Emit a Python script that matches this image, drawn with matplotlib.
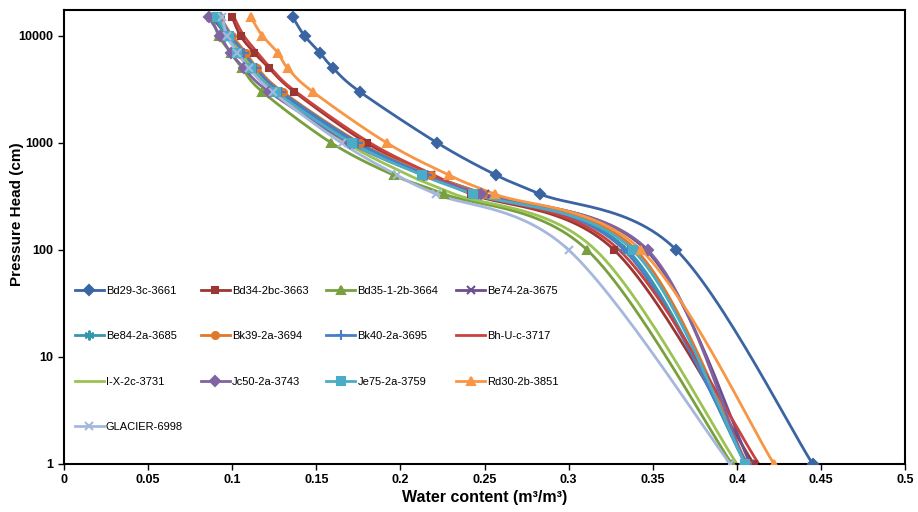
import numpy as np
import matplotlib
matplotlib.use('Agg')
import matplotlib.pyplot as plt
from matplotlib.ticker import FixedLocator, FixedFormatter, NullLocator

plt.rcParams['font.family'] = ['Liberation Sans Narrow', 'Liberation Sans', 'DejaVu Sans']

# pressure heads (cm) where water content was measured
heads = [1, 100, 333, 500, 1000, 3000, 5000, 7000, 10000, 15000]

names = ['Bd29-3c-3661', 'Bd34-2bc-3663', 'Bd35-1-2b-3664', 'Be74-2a-3675',
         'Be84-2a-3685', 'Bk39-2a-3694', 'Bk40-2a-3695', 'Bh-U-c-3717',
         'I-X-2c-3731', 'Jc50-2a-3743', 'Je75-2a-3759', 'Rd30-2b-3851',
         'GLACIER-6998']

bd29 = [0.445, 0.364, 0.283, 0.257, 0.222, 0.176, 0.160, 0.152, 0.143, 0.136]
bd34 = [0.410, 0.327, 0.242, 0.218, 0.180, 0.137, 0.122, 0.113, 0.105, 0.100]
bd35 = [0.397, 0.311, 0.226, 0.196, 0.159, 0.118, 0.106, 0.099, 0.092, 0.088]
be74 = [0.408, 0.346, 0.250, 0.218, 0.175, 0.128, 0.113, 0.105, 0.097, 0.088]
be84 = [0.405, 0.335, 0.246, 0.215, 0.172, 0.126, 0.111, 0.104, 0.096, 0.090]
bk39 = [0.406, 0.340, 0.249, 0.218, 0.176, 0.130, 0.115, 0.108, 0.100, 0.093]
bk40 = [0.406, 0.333, 0.246, 0.216, 0.175, 0.129, 0.114, 0.107, 0.099, 0.093]
bhu = [0.413, 0.330, 0.245, 0.220, 0.182, 0.138, 0.123, 0.115, 0.107, 0.101]
ix = [0.400, 0.316, 0.232, 0.205, 0.168, 0.126, 0.112, 0.105, 0.097, 0.093]
jc50 = [0.405, 0.347, 0.248, 0.214, 0.170, 0.122, 0.107, 0.099, 0.093, 0.086]
je75 = [0.405, 0.338, 0.243, 0.213, 0.171, 0.126, 0.111, 0.103, 0.098, 0.091]
rd30 = [0.422, 0.343, 0.256, 0.229, 0.192, 0.148, 0.133, 0.127, 0.118, 0.111]
glacier = [0.396, 0.300, 0.221, 0.198, 0.165, 0.124, 0.110, 0.103, 0.097, 0.094]

series = [bd29, bd34, bd35, be74, be84, bk39, bk40, bhu, ix, jc50, je75, rd30, glacier]

colors = ['#3A64A2', '#9B3633', '#79A03E', '#6B4F8E', '#3497AE', '#E0782A', '#4A7EC4',
          '#C8433F', '#9BC253', '#8064A2', '#4BACC6', '#F79646', '#A5B8DC']
markers = ['D', 's', '^', 'x', (6, 2, 0), 'o', '+', None, None, 'D', 's', '^', 'x']
msizes = [5, 5, 6, 6, 7, 5, 7, 0, 0, 5, 6, 6, 6]

xmax, ymin, ymax = 0.5, 1, 17500


def smooth(xs, ys, n=30):
    # Excel-style smoothed line: Catmull-Rom bezier in screen-like space
    u = np.array(xs) / xmax * 841.0
    v = np.log10(np.array(ys, dtype=float)) * 107.0
    pts = np.column_stack([u, v])
    out = []
    for i in range(len(pts) - 1):
        p0 = pts[max(i - 1, 0)]
        p1 = pts[i]
        p2 = pts[i + 1]
        p3 = pts[min(i + 2, len(pts) - 1)]
        c1 = p1 + (p2 - p0) / 6.0
        c2 = p2 - (p3 - p1) / 6.0
        t = np.linspace(0, 1, n)[:, None]
        seg = ((1 - t) ** 3) * p1 + 3 * ((1 - t) ** 2) * t * c1 + 3 * (1 - t) * t ** 2 * c2 + t ** 3 * p2
        out.append(seg if i == 0 else seg[1:])
    out = np.vstack(out)
    return out[:, 0] / 841.0 * xmax, 10 ** (out[:, 1] / 107.0)


fig = plt.figure(figsize=(9.18, 5.12), dpi=100)
ax = fig.add_axes([0.0697, 0.0938, 0.9163, 0.8867])

handles = []
for name, vals, c, m, ms in zip(names, series, colors, markers, msizes):
    sx, sy = smooth(vals, heads)
    ax.plot(sx, sy, color=c, lw=2.0, zorder=2)
    ax.plot(vals, heads, linestyle='none', marker=m, ms=ms, color=c, mec=c,
            mew=1.5, zorder=3)
    h, = ax.plot([], [], color=c, lw=2.0, marker=m, ms=ms, mew=1.5, label=name)
    handles.append(h)

ax.set_yscale('log')
ax.set_xlim(0, xmax)
ax.set_ylim(ymin, ymax)

ax.yaxis.set_major_locator(FixedLocator([1, 10, 100, 1000, 10000]))
ax.yaxis.set_major_formatter(FixedFormatter(['1', '10', '100', '1000', '10000']))
ax.yaxis.set_minor_locator(NullLocator())
ax.set_xticks(np.arange(0, 0.501, 0.05))
ax.set_xticklabels(['0', '0.05', '0.1', '0.15', '0.2', '0.25', '0.3', '0.35', '0.4', '0.45', '0.5'])

for lab in ax.get_yticklabels() + ax.get_xticklabels():
    lab.set_fontweight('bold')
    lab.set_fontsize(9)

ax.tick_params(axis='both', direction='out', length=4, width=1, color='black')
for sp in ax.spines.values():
    sp.set_linewidth(1.5)

ax.set_ylabel('Pressure Head (cm)', fontsize=11, fontweight='bold')
ax.yaxis.set_label_coords(-0.047, 0.55)
ax.set_xlabel('Water content (m\u00b3/m\u00b3)', fontsize=11.5, fontweight='bold')
ax.xaxis.set_label_coords(0.5, -0.058)

# Excel fills the legend row by row; matplotlib fills columns, so reorder
ncol = 4
nrow = int(np.ceil(len(handles) / ncol))
order = []
for col in range(ncol):
    for row in range(nrow):
        k = row * ncol + col
        if k < len(handles):
            order.append(k)
ax.legend([handles[k] for k in order], [names[k] for k in order],
          loc='upper left', bbox_to_anchor=(0.001, 0.415), ncol=ncol, frameon=False,
          fontsize=8, labelspacing=3.2, columnspacing=1.6, handlelength=2.6,
          handletextpad=0.2)

fig.savefig('out.png', dpi=100)
